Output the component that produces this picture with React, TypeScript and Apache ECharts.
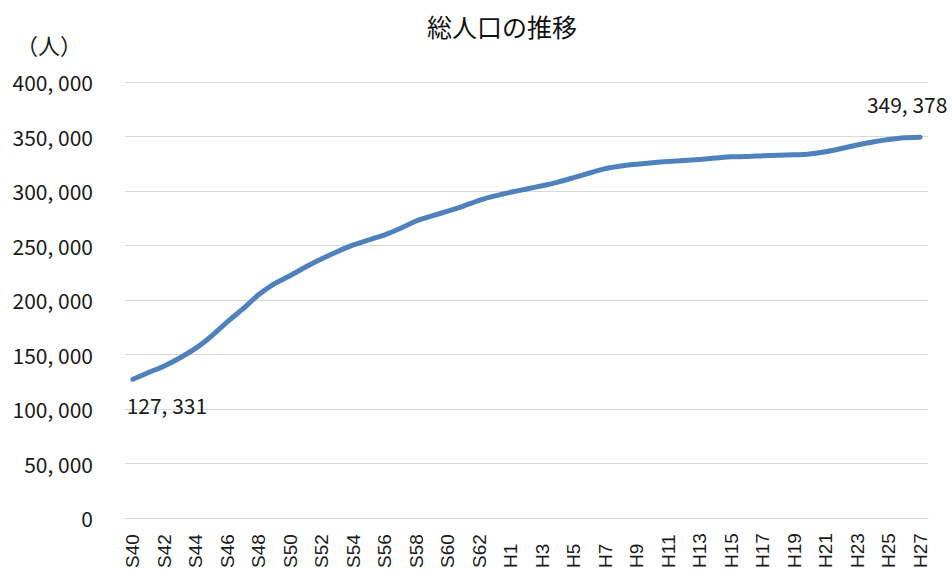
import { useEffect, useRef } from 'react';
import * as echarts from 'echarts';

// 年度（昭和40年〜平成27年）
const years = [
  'S40', 'S41', 'S42', 'S43', 'S44', 'S45', 'S46', 'S47', 'S48', 'S49',
  'S50', 'S51', 'S52', 'S53', 'S54', 'S55', 'S56', 'S57', 'S58', 'S59',
  'S60', 'S61', 'S62', 'S63',
  'H1', 'H2', 'H3', 'H4', 'H5', 'H6', 'H7', 'H8', 'H9', 'H10',
  'H11', 'H12', 'H13', 'H14', 'H15', 'H16', 'H17', 'H18', 'H19', 'H20',
  'H21', 'H22', 'H23', 'H24', 'H25', 'H26', 'H27',
];

// 総人口（人）
const population = [
  127331, 133500, 139500, 147000, 155800, 167000, 180000, 192000, 205000, 215000,
  222500, 230500, 237800, 244500, 250500, 255200, 259800, 265800, 272500, 277200,
  281500, 286200, 291500, 295500,
  298800, 301800, 304800, 308200, 312300, 316500, 320500, 323000, 324600, 326000,
  327000, 328000, 329000, 330200, 331400, 331600, 332400, 332800, 333200, 334000,
  336000, 339000, 342200, 345000, 347200, 348800, 349378,
];

const yMin = 0;
const yMax = 400000;
const yStep = 50000;

const chartTitle = '総人口の推移';
const unitText = '（人）';

const jpFont = '"Noto Sans CJK JP", "Noto Sans", sans-serif';
const latinFont = '"Liberation Sans", Arial, sans-serif';

const fmt = (v: number) => v.toLocaleString('en-US').replace(/,/g, ', ');

export default function App() {
  const ref = useRef<HTMLDivElement>(null);

  useEffect(() => {
    if (!ref.current) return;
    const chart = echarts.init(ref.current, null, { renderer: 'svg' });

    const last = population.length - 1;
    const seriesData = population.map((v, i) => {
      if (i === 0) {
        return {
          value: v,
          label: { show: true, position: 'bottom', offset: [34, 10] },
        };
      }
      if (i === last) {
        return {
          value: v,
          label: { show: true, position: 'top', offset: [-13, -18] },
        };
      }
      return v;
    });

    chart.setOption({
      animation: false,
      backgroundColor: '#ffffff',
      title: {
        text: chartTitle,
        left: 422,
        top: 8,
        textStyle: {
          fontFamily: jpFont,
          fontSize: 25,
          fontWeight: 'normal',
          color: '#111111',
        },
      },
      graphic: [
        {
          type: 'text',
          left: 16,
          top: 33,
          style: {
            text: unitText,
            font: `22px ${jpFont}`,
            fill: '#1a1a1a',
          },
        },
      ],
      grid: { left: 125, right: 24, top: 82, bottom: 50, containLabel: false },
      xAxis: {
        type: 'category',
        data: years,
        boundaryGap: true,
        axisLine: { show: true, lineStyle: { color: '#d9d9d9', width: 1 } },
        axisTick: { show: false },
        axisLabel: {
          interval: 1,
          rotate: 90,
          align: 'left',
          verticalAlign: 'middle',
          margin: 50,
          fontFamily: latinFont,
          fontSize: 19,
          color: '#1a1a1a',
        },
      },
      yAxis: {
        type: 'value',
        min: yMin,
        max: yMax,
        interval: yStep,
        axisLine: { show: false },
        axisTick: { show: false },
        splitLine: { lineStyle: { color: '#d9d9d9', width: 1 } },
        axisLabel: {
          margin: 32,
          fontFamily: jpFont,
          fontSize: 21,
          color: '#1a1a1a',
          formatter: (v: number) => fmt(v),
        },
      },
      series: [
        {
          type: 'line',
          data: seriesData,
          showSymbol: true,
          symbol: 'circle',
          symbolSize: 0,
          smooth: 0.2,
          lineStyle: { color: '#4F81BD', width: 5, cap: 'round', join: 'round' },
          itemStyle: { color: '#4F81BD' },
          emphasis: { disabled: true },
          label: {
            show: false,
            fontFamily: jpFont,
            fontSize: 21,
            color: '#1a1a1a',
            formatter: (p: any) => fmt(p.value as number),
          },
        },
      ],
    });

    return () => chart.dispose();
  }, []);

  return (
    <div
      ref={ref}
      style={{ position: 'absolute', left: 0, top: 0, width: 952, height: 571 }}
    />
  );
}
